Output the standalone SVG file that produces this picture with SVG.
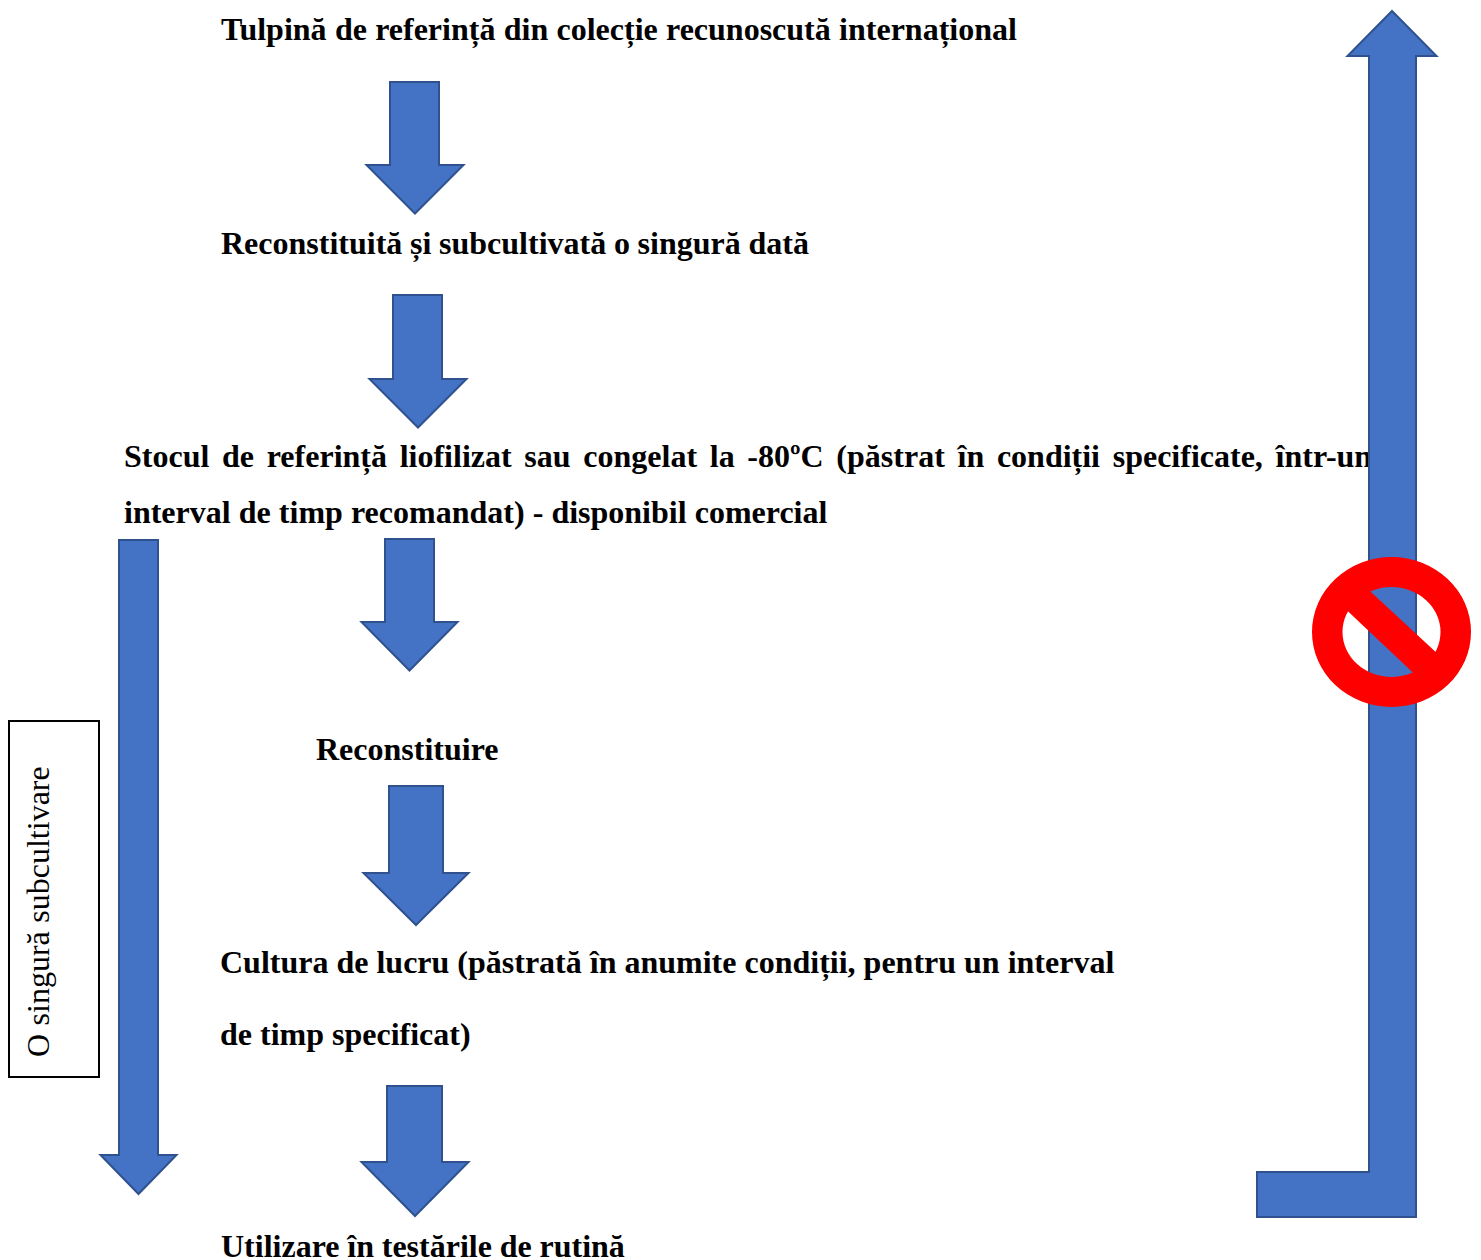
<svg xmlns="http://www.w3.org/2000/svg" width="1481" height="1260" viewBox="0 0 1481 1260">
<style>
.t{font-family:"Liberation Serif","Times New Roman",serif;font-weight:bold;font-size:32px;fill:#000}
.r{font-family:"Liberation Serif","Times New Roman",serif;font-size:32px;fill:#000}
.a{fill:#4472C4;stroke:#2F528F;stroke-width:2}
</style>
<rect width="1481" height="1260" fill="#fff"/>
<g id="node-tulpina"><text class="t" x="221" y="40" word-spacing="0.3">Tulpină de referință din colecție recunoscută internațional</text></g>
<g id="node-reconstituita"><text class="t" x="221" y="254" word-spacing="-0.3">Reconstituită și subcultivată o singură dată</text></g>
<g id="node-stoc"><text class="t" x="124" y="467" word-spacing="4.700">Stocul de referință liofilizat sau congelat la -80ºC (păstrat în condiții specificate, într-un</text><text class="t" x="124" y="523" word-spacing="0.1">interval de timp recomandat) - disponibil comercial</text></g>
<g id="node-reconstituire"><text class="t" x="316" y="760">Reconstituire</text></g>
<g id="node-cultura"><text class="t" x="220" y="973">Cultura de lucru (păstrată în anumite condiții, pentru un interval</text><text class="t" x="220" y="1045">de timp specificat)</text></g>
<g id="node-utilizare"><text class="t" x="221" y="1257" word-spacing="-0.2">Utilizare în testările de rutină</text></g>
<g id="connectors">
<polygon class="a" points="390,82 439,82 439,165 463.500,165 415,213.500 366.500,165 390,165"/>
<polygon class="a" points="393,295 442,295 442,379 466.500,379 418,427.500 369.500,379 393,379"/>
<polygon class="a" points="385,539 434,539 434,622 457.500,622 409.500,670.500 361.500,622 385,622"/>
<polygon class="a" points="389,786 443,786 443,873 468.500,873 416,925 363.500,873 389,873"/>
<polygon class="a" points="387,1086 442,1086 442,1162 468.500,1162 415,1216 361.500,1162 387,1162"/>
<polygon class="a" points="119,540 158,540 158,1155 176.500,1155 138.500,1194 100.500,1155 119,1155"/>
<polygon class="a" points="1392,11 1436.500,56 1416,56 1416,1217 1257,1217 1257,1172 1369,1172 1369,56 1347.500,56"/>
</g>
<g id="node-subcultivare"><rect x="9" y="721" width="90" height="356" fill="#fff" stroke="#000" stroke-width="2"/><text class="r" transform="translate(49 1057) rotate(-90)" word-spacing="0.5">O singură subcultivare</text></g>
<g id="no-symbol" fill="#f00"><path fill-rule="evenodd" d="M1312 632a79.500 75 0 1 0 159 0a79.500 75 0 1 0-159 0ZM1342.500 632a49 45 0 1 0 98 0a49 45 0 1 0-98 0Z"/><polygon points="1337,601 1359,581 1446.500,662 1424,683"/></g>
</svg>
